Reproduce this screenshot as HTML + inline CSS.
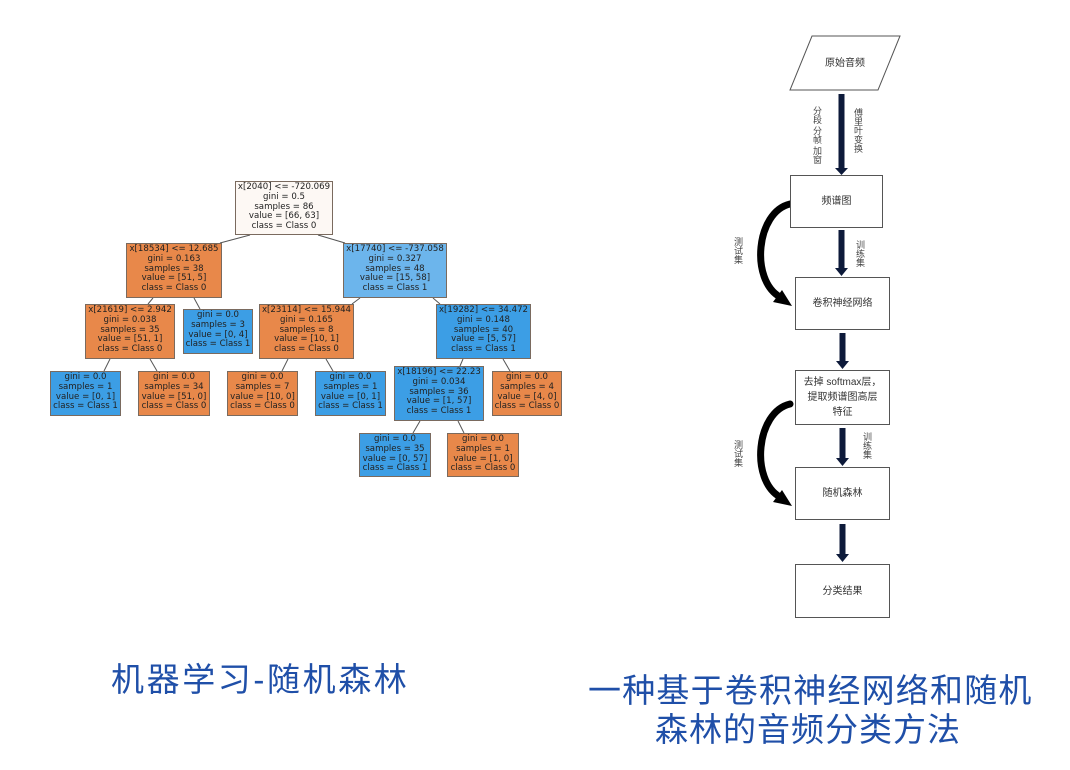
<!DOCTYPE html>
<html><head><meta charset="utf-8"><style>
body{margin:0;width:1070px;height:770px;background:#fff;position:relative;overflow:hidden;font-family:"DejaVu Sans","Liberation Sans",sans-serif}
.n{position:absolute;box-sizing:border-box;border:1px solid #7a6a5e;font-size:8.6px;line-height:9.8px;text-align:center;color:#222;padding-top:1px;white-space:nowrap}
.o{background:#e8884a}.b{background:#3c9ee5}.lb{background:#6cb5ec}.w{background:#fdf8f4}
.fb{position:absolute;box-sizing:border-box;border:1px solid #555;background:#fff;font-family:"Liberation Sans","Noto Sans CJK SC",sans-serif;font-size:10px;color:#333;display:flex;align-items:center;justify-content:center;text-align:center;line-height:15px}
.vt{position:absolute;font-family:"Noto Sans CJK SC",sans-serif;font-size:9px;color:#444;writing-mode:vertical-rl;line-height:10px}
.t{position:absolute;font-family:"Liberation Sans","Noto Sans CJK SC",sans-serif;color:#1f4fa8;font-size:33px;white-space:nowrap}
</style></head><body>
<svg width="1070" height="770" style="position:absolute;left:0;top:0">
<g stroke="#555" stroke-width="1" fill="none">
<line x1="250" y1="235" x2="220" y2="243"/><line x1="318" y1="235" x2="345" y2="243"/>
<line x1="153" y1="298" x2="148" y2="304"/><line x1="194" y1="298" x2="200" y2="309"/>
<line x1="360" y1="298" x2="352" y2="304"/><line x1="433" y1="298" x2="440" y2="304"/>
<line x1="110" y1="359" x2="104" y2="371"/><line x1="150" y1="359" x2="157" y2="371"/>
<line x1="288" y1="359" x2="282" y2="371"/><line x1="326" y1="359" x2="333" y2="371"/>
<line x1="463" y1="359" x2="460" y2="366"/><line x1="503" y1="359" x2="510" y2="371"/>
<line x1="420" y1="421" x2="413" y2="433"/><line x1="458" y1="421" x2="464" y2="433"/>
</g>
<polygon points="812,36 900,36 878,90 790,90" fill="#fff" stroke="#555"/>
<g fill="#0d1a3a">
<rect x="838.5" y="94" width="6" height="76"/><polygon points="835,168 848,168 841.5,175"/>
<rect x="838.5" y="230" width="6" height="40"/><polygon points="835,268 848,268 841.5,276"/>
<rect x="839.5" y="333" width="6" height="30"/><polygon points="836,361 849,361 842.5,369"/>
<rect x="839.5" y="428" width="6" height="32"/><polygon points="836,458 849,458 842.5,466"/>
<rect x="839.5" y="524" width="6" height="32"/><polygon points="836,554 849,554 842.5,562"/>
</g>
<g fill="none" stroke="#000" stroke-linecap="round">
<path d="M790,204 C756,212 750,280 780,297" stroke-width="7"/>
<path d="M790,404 C756,412 750,480 780,497" stroke-width="7"/>
</g>
<g fill="#000">
<polygon points="792,306 782,290 773,302"/>
<polygon points="792,506 782,490 773,502"/>
</g>
</svg>
<div class="n w" style="left:235px;top:181px;width:98px;height:54px">x[2040] &lt;= -720.069<br>gini = 0.5<br>samples = 86<br>value = [66, 63]<br>class = Class 0</div>
<div class="n o" style="left:126px;top:243px;width:96px;height:55px">x[18534] &lt;= 12.685<br>gini = 0.163<br>samples = 38<br>value = [51, 5]<br>class = Class 0</div>
<div class="n lb" style="left:343px;top:243px;width:104px;height:55px">x[17740] &lt;= -737.058<br>gini = 0.327<br>samples = 48<br>value = [15, 58]<br>class = Class 1</div>
<div class="n o" style="left:85px;top:304px;width:90px;height:55px">x[21619] &lt;= 2.942<br>gini = 0.038<br>samples = 35<br>value = [51, 1]<br>class = Class 0</div>
<div class="n b" style="left:183px;top:309px;width:70px;height:45px">gini = 0.0<br>samples = 3<br>value = [0, 4]<br>class = Class 1</div>
<div class="n o" style="left:259px;top:304px;width:95px;height:55px">x[23114] &lt;= 15.944<br>gini = 0.165<br>samples = 8<br>value = [10, 1]<br>class = Class 0</div>
<div class="n b" style="left:436px;top:304px;width:95px;height:55px">x[19282] &lt;= 34.472<br>gini = 0.148<br>samples = 40<br>value = [5, 57]<br>class = Class 1</div>
<div class="n b" style="left:50px;top:371px;width:71px;height:45px">gini = 0.0<br>samples = 1<br>value = [0, 1]<br>class = Class 1</div>
<div class="n o" style="left:138px;top:371px;width:72px;height:45px">gini = 0.0<br>samples = 34<br>value = [51, 0]<br>class = Class 0</div>
<div class="n o" style="left:227px;top:371px;width:71px;height:45px">gini = 0.0<br>samples = 7<br>value = [10, 0]<br>class = Class 0</div>
<div class="n b" style="left:315px;top:371px;width:71px;height:45px">gini = 0.0<br>samples = 1<br>value = [0, 1]<br>class = Class 1</div>
<div class="n b" style="left:394px;top:366px;width:90px;height:55px">x[18196] &lt;= 22.23<br>gini = 0.034<br>samples = 36<br>value = [1, 57]<br>class = Class 1</div>
<div class="n o" style="left:492px;top:371px;width:70px;height:45px">gini = 0.0<br>samples = 4<br>value = [4, 0]<br>class = Class 0</div>
<div class="n b" style="left:359px;top:433px;width:72px;height:44px">gini = 0.0<br>samples = 35<br>value = [0, 57]<br>class = Class 1</div>
<div class="n o" style="left:447px;top:433px;width:72px;height:44px">gini = 0.0<br>samples = 1<br>value = [1, 0]<br>class = Class 0</div>

<div class="fb" style="left:800px;top:50px;width:90px;height:26px;border:none;background:none">原始音频</div>
<div class="fb" style="left:790px;top:175px;width:93px;height:53px">频谱图</div>
<div class="fb" style="left:795px;top:277px;width:95px;height:53px">卷积神经网络</div>
<div class="fb" style="left:795px;top:370px;width:95px;height:55px">去掉 softmax层，<br>提取频谱图高层<br>特征</div>
<div class="fb" style="left:795px;top:467px;width:95px;height:53px">随机森林</div>
<div class="fb" style="left:795px;top:564px;width:95px;height:54px">分类结果</div>
<div class="vt" style="left:812px;top:106px">分段 分帧 加窗</div>
<div class="vt" style="left:853px;top:108px">傅里叶变换</div>
<div class="vt" style="left:733px;top:237px">测试集</div>
<div class="vt" style="left:855px;top:240px">训练集</div>
<div class="vt" style="left:733px;top:440px">测试集</div>
<div class="vt" style="left:862px;top:432px">训练集</div>

<div class="t" style="left:111px;top:653px;letter-spacing:2.6px">机器学习-随机森林</div>
<div class="t" style="left:588px;top:664px;letter-spacing:1.2px">一种基于卷积神经网络和随机</div>
<div class="t" style="left:655px;top:703px;letter-spacing:1px">森林的音频分类方法</div>
</body></html>
